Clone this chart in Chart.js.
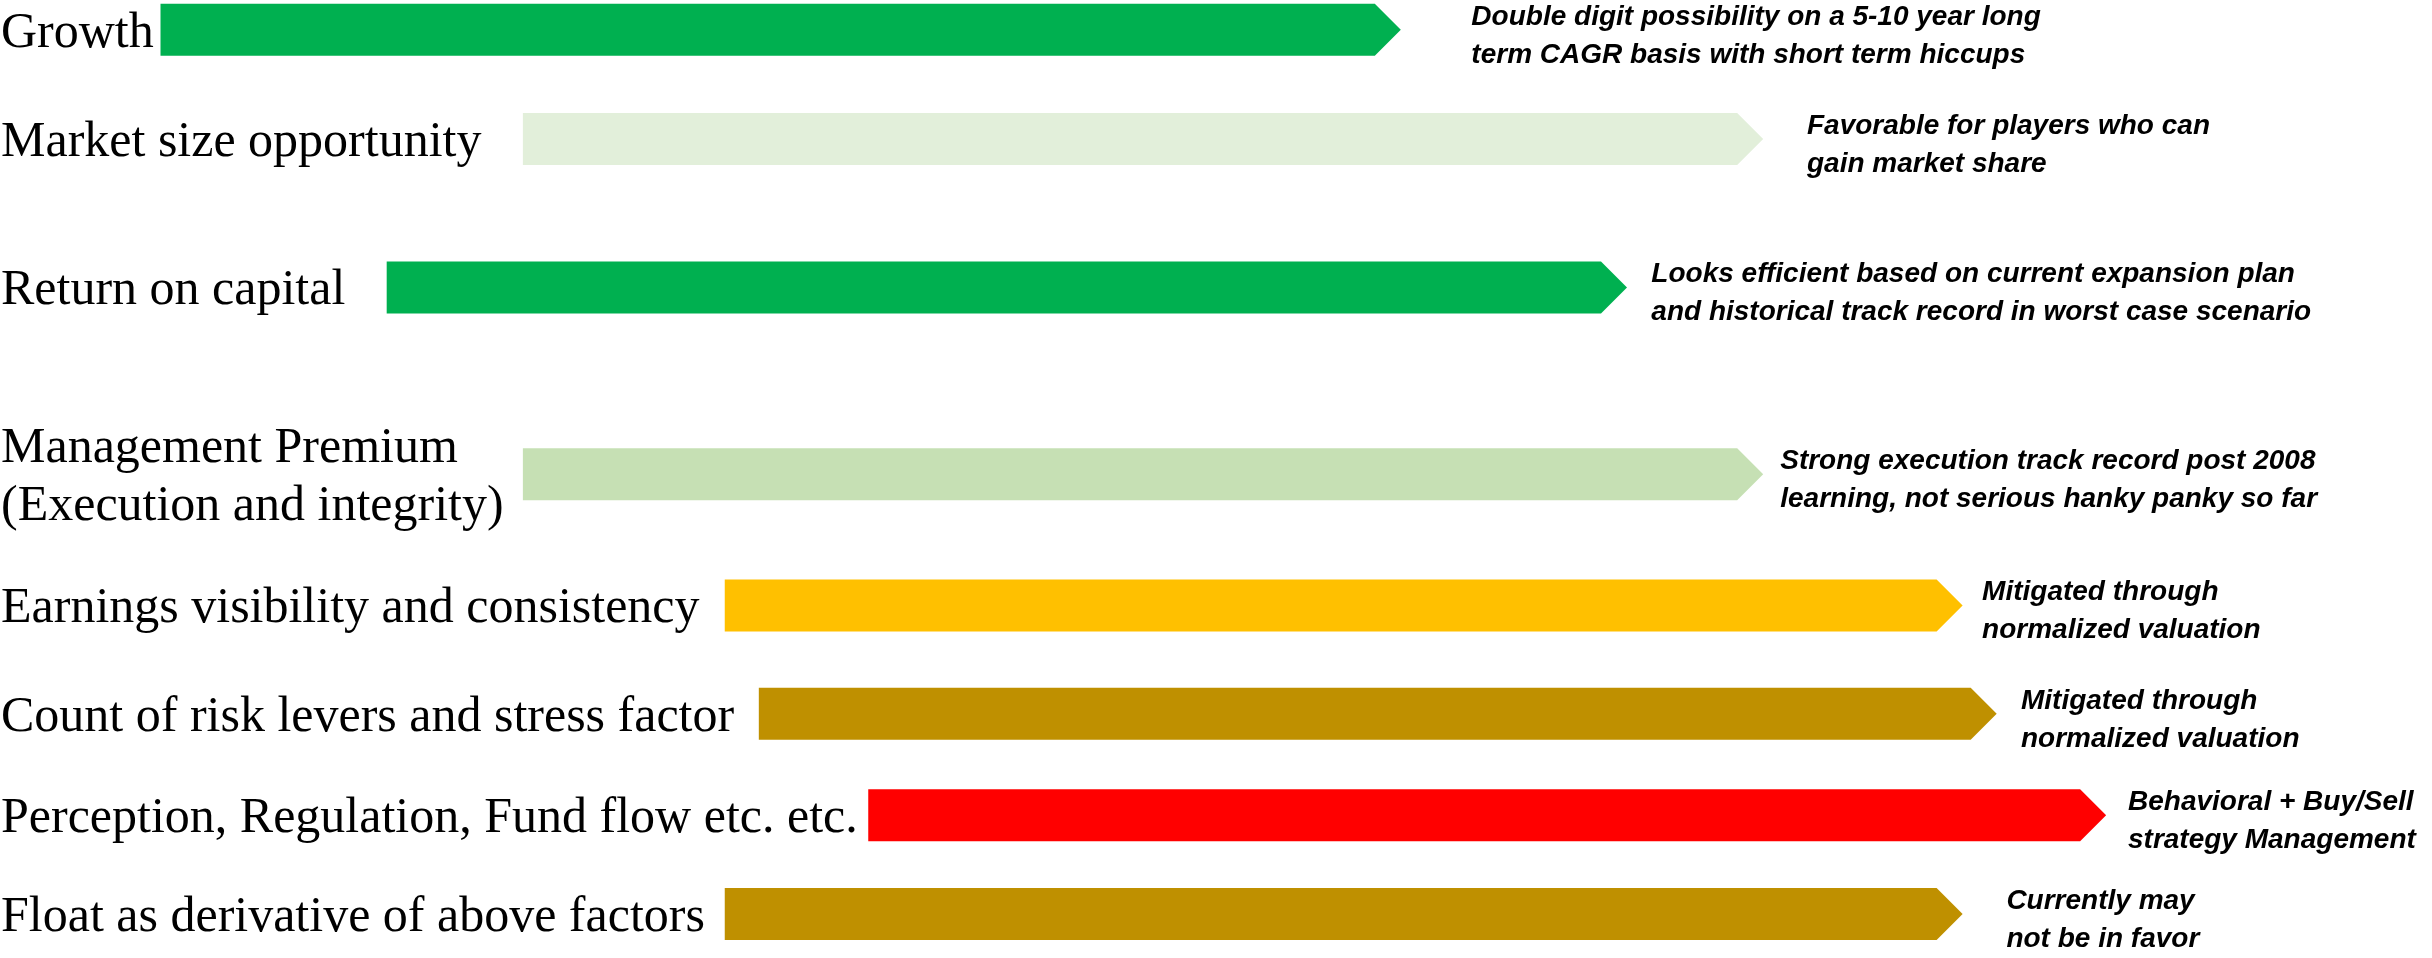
<!DOCTYPE html>
<html>
<head>
<meta charset="utf-8">
<script src="https://cdn.jsdelivr.net/npm/chart.js@4"></script>
<style>
html, body { margin: 0; padding: 0; background: #fff; }
</style>
</head>
<body>
<canvas id="arrows" width="2432" height="958"></canvas>
<script>
// factor names (left side)
const factors = [
  'Growth',
  'Market size opportunity',
  'Return on capital',
  ['Management Premium', '(Execution and integrity)'],
  'Earnings visibility and consistency',
  'Count of risk levers and stress factor',
  'Perception, Regulation, Fund flow etc. etc.',
  'Float as derivative of above factors'
]

// comments shown after each arrow
const notes = [
  ['Double digit possibility on a 5-10 year long', 'term CAGR basis with short term hiccups'],
  ['Favorable for players who can', 'gain market share'],
  ['Looks efficient based on current expansion plan', 'and historical track record in worst case scenario'],
  ['Strong execution track record post 2008', 'learning, not serious hanky panky so far'],
  ['Mitigated through', 'normalized valuation'],
  ['Mitigated through', 'normalized valuation'],
  ['Behavioral + Buy/Sell', 'strategy Management'],
  ['Currently may', 'not be in favor']
]

// row position (0 top .. 100 bottom), arrow start / end, note start (0..100)
const rowPos = [3.1, 14.5, 30.0, 49.5, 63.2, 74.5, 85.1, 95.4]
const arrowStart = [6.6, 21.5, 15.9, 21.5, 29.8, 31.2, 35.7, 29.8]
const arrowEnd = [57.6, 72.5, 66.9, 72.5, 80.7, 82.1, 86.6, 80.7]
const noteAt = [60.5, 74.3, 67.9, 73.2, 81.5, 83.1, 87.5, 82.5]
const colors = ['#00B050', '#E2EFDA', '#00B050', '#C6E0B4', '#FFC000', '#BF9000', '#FF0000', '#BF9000']

// draws every bar as a pentagon arrow instead of a rectangle
const arrowBars = {
  id: 'arrowBars',
  beforeDatasetsDraw(chart) {
    const ctx = chart.ctx
    const meta = chart.getDatasetMeta(0)
    meta.data.forEach((bar, i) => {
      const left = Math.min(bar.base, bar.x)
      const right = Math.max(bar.base, bar.x)
      const h = bar.height
      const top = bar.y - h / 2
      const bottom = bar.y + h / 2
      const neck = right - h / 2
      ctx.save()
      ctx.beginPath()
      ctx.moveTo(left, top)
      ctx.lineTo(neck, top)
      ctx.lineTo(right, bar.y)
      ctx.lineTo(neck, bottom)
      ctx.lineTo(left, bottom)
      ctx.closePath()
      ctx.fillStyle = bar.options.backgroundColor
      ctx.fill()
      ctx.restore()
    })
    return false
  }
}

// factor names on the left, comments on the right
const sideText = {
  id: 'sideText',
  afterDraw(chart) {
    const ctx = chart.ctx
    const xs = chart.scales.x
    const meta = chart.getDatasetMeta(0)
    ctx.save()
    ctx.fillStyle = '#000'
    ctx.textAlign = 'left'
    ctx.textBaseline = 'alphabetic'
    meta.data.forEach((bar, i) => {
      // left label
      ctx.font = '50px "Liberation Serif", serif'
      let lines = Array.isArray(factors[i]) ? factors[i] : [factors[i]]
      let lh = 58
      let first = bar.y + 17 - (lines.length - 1) * lh / 2
      lines.forEach((t, k) => ctx.fillText(t, 1, first + k * lh))

      // note
      ctx.font = 'italic bold 28px "Liberation Sans", sans-serif'
      let nx = xs.getPixelForValue(noteAt[i])
      ctx.fillText(notes[i][0], nx, bar.y - 5)
      ctx.fillText(notes[i][1], nx, bar.y + 33)
    })
    ctx.restore()
  }
}

const arrowChart = new Chart(document.getElementById('arrows'), {
  type: 'bar',
  data: {
    datasets: [{
      data: rowPos.map((p, i) => ({ x: [arrowStart[i], arrowEnd[i]], y: p })),
      backgroundColor: colors,
      barThickness: 52
    }]
  },
  options: {
    indexAxis: 'y',
    responsive: false,
    animation: false,
    layout: { padding: 0 },
    scales: {
      x: { type: 'linear', min: 0, max: 100, offset: false, display: false },
      y: { type: 'linear', min: 0, max: 100, offset: false, reverse: true, display: false }
    },
    plugins: {
      legend: { display: false },
      tooltip: { enabled: false }
    }
  },
  plugins: [arrowBars, sideText]
})
</script>
</body>
</html>
